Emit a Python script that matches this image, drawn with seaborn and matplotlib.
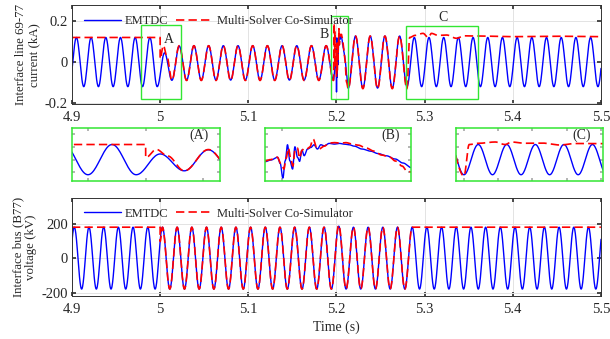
import numpy as np
import pandas as pd
import seaborn as sns
import matplotlib.pyplot as plt
from matplotlib.patches import Rectangle
from matplotlib.ticker import FuncFormatter, MultipleLocator

# 60 Hz signals: each list holds one extremum per half cycle
HALF = 1 / 120

# ---- interface line current (kA) ----
cur_first = 4.8967  # time of the first listed extremum (a trough)
cur_emtdc_pre = [-0.12, 0.12] * 6 + [-0.12, 0.045, -0.089, 0.078] + [-0.088, 0.08] * 10 + [-0.088]
cur_emtdc_post = [-0.128] + [0.127, -0.127] * 3 + [0.127] + [-0.12, 0.12] * 14

# zoom (B): samples
b_t_emtdc = [5.1985, 5.19905, 5.19964, 5.19987, 5.20011, 5.20032, 5.20052, 5.20073, 5.20097,
             5.20118, 5.20141, 5.20159, 5.2018, 5.2020, 5.2023, 5.2026, 5.20287, 5.20318,
             5.20348, 5.20378, 5.20422, 5.20466, 5.20511, 5.20555, 5.206, 5.20644, 5.20715,
             5.20786, 5.20857, 5.20928, 5.21008, 5.21078, 5.2115]
b_v_emtdc = [-0.017, -0.003, 0.018, -0.030, -0.146, -0.009, 0.118, -0.009, -0.075,
             0.102, 0.018, -0.014, 0.076, 0.031, 0.084, 0.097, 0.118, 0.084,
             0.118, 0.110, 0.129, 0.123, 0.129, 0.123, 0.118, 0.107, 0.084,
             0.068, 0.048, 0.031, 0.005, -0.027, -0.063]
b_t_cosim = [5.1985, 5.1990, 5.1996, 5.2000, 5.2002, 5.2004, 5.2006, 5.2008, 5.2010, 5.2012,
             5.2014, 5.2016, 5.2018, 5.2020, 5.2023, 5.2025, 5.2028, 5.2031, 5.2033, 5.2038,
             5.2042, 5.2047, 5.2052, 5.2057, 5.2063, 5.2068, 5.2075, 5.2082, 5.2089, 5.2096,
             5.2101, 5.2107, 5.2111, 5.2115]
b_v_cosim = [-0.011, 0.0, 0.02, -0.043, -0.075, 0.012, 0.092, 0.012, -0.051, 0.084,
             0.092, 0.012, 0.072, 0.092, 0.088, 0.1, 0.163, 0.1, 0.084, 0.107,
             0.131, 0.135, 0.131, 0.135, 0.123, 0.115, 0.092, 0.068, 0.036, 0.02,
             -0.011, -0.051, -0.088, -0.098]

# co-simulator current: phasor level, switch-over at 5.0 s, spike near 5.2 s, phasor again
cos_head_t = [4.9, 5.0, 5.0, 5.0037, 5.0075]
cos_head_v = [0.12, 0.12, 0.016, 0.081, 0.03]
cos_mid1 = [-0.089, 0.08] + [-0.09, 0.08] * 10 + [-0.09]
cos_spike_t = [5.1975, 5.1979, 5.1982]
cos_spike_v = [0.19, -0.02, 0.15]
cos_mid2 = [-0.13, 0.127] * 4 + [-0.13]
cos_tail_t = [5.2831, 5.2889, 5.2983, 5.304, 5.3078, 5.315, 5.325, 5.3362, 5.345, 5.3603, 5.4, 5.45, 5.5]
cos_tail_v = [0.12, 0.13, 0.14, 0.12, 0.14, 0.13, 0.132, 0.116, 0.128, 0.127, 0.124, 0.126, 0.124]

# ---- interface bus voltage (kV) ----
volt_first = 4.8943
volt_emtdc = [-180, 180] * 18 + [-180, 186] + [-180, 180] * 18
vcos_head_t = [4.9, 5.0, 5.0]
vcos_head_v = [180, 180, 97]
vcos_mid = [180, -180] * 12 + [192] + [-180, 180] * 5
vcos_tail_t = [5.5]
vcos_tail_v = [180]

x_ticks = [4.9, 5.0, 5.1, 5.2, 5.3, 5.4, 5.5]
boxes = {"A": (4.978, 5.0236, -0.182, 0.18, 5.0103, 0.11),
         "B": (5.1944, 5.2137, -0.18, 0.224, 5.1857, 0.135),
         "C": (5.2795, 5.3607, -0.18, 0.177, 5.321, 0.218)}
zooms = {"A": (4.9745, 5.0258), "B": (5.1985, 5.2115), "C": (5.2752, 5.361)}


def ext_times(idx0, n, first):
    return list(first + HALF * (idx0 + np.arange(n)))


def smooth(tk, vk, n=24):
    # half-cosine shaping between the read-off knots
    tk, vk = np.asarray(tk, float), np.asarray(vk, float)
    s = np.linspace(0, 1, n, endpoint=False)
    w = (1 - np.cos(np.pi * s)) / 2
    ts = [t0 + (t1 - t0) * s for t0, t1 in zip(tk[:-1], tk[1:])]
    vs = [v0 + (v1 - v0) * w for v0, v1 in zip(vk[:-1], vk[1:])]
    return pd.DataFrame({"t": np.r_[np.concatenate(ts), tk[-1]],
                         "v": np.r_[np.concatenate(vs), vk[-1]]})


cur_blue = smooth(ext_times(0, len(cur_emtdc_pre), cur_first) + b_t_emtdc
                  + ext_times(38, len(cur_emtdc_post), cur_first),
                  cur_emtdc_pre + b_v_emtdc + cur_emtdc_post)
cur_red = smooth(cos_head_t + ext_times(14, len(cos_mid1), cur_first) + cos_spike_t + b_t_cosim
                 + ext_times(38, len(cos_mid2), cur_first) + cos_tail_t,
                 cos_head_v + cos_mid1 + cos_spike_v + b_v_cosim + cos_mid2 + cos_tail_v)
volt_blue = smooth(ext_times(0, len(volt_emtdc), volt_first), volt_emtdc)
volt_red = smooth(vcos_head_t + ext_times(13, len(vcos_mid), volt_first) + vcos_tail_t,
                  vcos_head_v + vcos_mid + vcos_tail_v)

sns.set_theme(style="ticks")
plt.rcParams["font.family"] = ["Liberation Serif", "DejaVu Serif"]
plt.rcParams["axes.unicode_minus"] = False
plt.rcParams["font.size"] = 9.5

BLUE, RED, GREEN = "#0000ff", "#ff0000", "#33e633"
fig = plt.figure(figsize=(6.1, 3.39), dpi=100)
ax1 = fig.add_axes([0.118, 0.693, 0.867, 0.292])
ax2 = fig.add_axes([0.118, 0.127, 0.867, 0.289])


def draw(ax, blue, red, lw=1.0):
    sns.lineplot(data=blue, x="t", y="v", ax=ax, color=BLUE, lw=lw, sort=False,
                 estimator=None, label="EMTDC")
    sns.lineplot(data=red, x="t", y="v", ax=ax, color=RED, lw=lw + 0.2, sort=False,
                 estimator=None, dashes=(5, 2.5), label="Multi-Solver Co-Simulator")


for ax, blue, red, ylim, yt, ylab in [
        (ax1, cur_blue, cur_red, (-0.205, 0.278), [-0.2, 0, 0.2], "Interface line 69-77\ncurrent (kA)"),
        (ax2, volt_blue, volt_red, (-220, 350), [-200, 0, 200], "Interface bus (B77)\nvoltage (kV)")]:
    draw(ax, blue, red)
    ax.set_xlim(4.9, 5.5)
    ax.set_ylim(*ylim)
    ax.set_xticks(x_ticks)
    ax.set_yticks(yt)
    ax.xaxis.set_major_formatter(FuncFormatter(lambda x, p: f"{x:g}"))
    ax.yaxis.set_major_formatter(FuncFormatter(lambda x, p: f"{x:g}"))
    ax.grid(True, color="#e3e3e3", lw=0.7)
    ax.tick_params(direction="in", top=True, right=True, length=3, labelsize=10.5, pad=3,
                   color="#333333")
    ax.tick_params(axis="x", pad=5)
    for sp in ax.spines.values():
        sp.set_color("#333333")
        sp.set_linewidth(0.7)
    ax.set_ylabel(ylab, fontsize=9.3, labelpad=3, linespacing=1.15)
    ax.set_xlabel("")
    ax.legend(ncol=2, frameon=False, loc="center left", bbox_to_anchor=(0.022, 0.84),
              borderpad=0, borderaxespad=0, handlelength=3.0, handletextpad=0.3,
              columnspacing=0.6, fontsize=9)
ax2.set_xlabel("Time (s)", fontsize=10, labelpad=3)
fig.align_ylabels([ax1, ax2])

for name, (x0, x1, y0, y1, lx, ly) in boxes.items():
    ax1.add_patch(Rectangle((x0, y0), x1 - x0, y1 - y0, fill=False, ec=GREEN, lw=1.0, zorder=5))
    ax1.text(lx, ly, name, fontsize=10, ha="center", va="center")

inset_pos = {"A": [0.118, 0.466, 0.243, 0.156],
             "B": [0.434, 0.466, 0.240, 0.156],
             "C": [0.747, 0.466, 0.241, 0.156]}
for name, pos in inset_pos.items():
    ax = fig.add_axes(pos)
    draw(ax, cur_blue, cur_red, lw=1.0)
    ax.get_legend().remove()
    ax.set_xlim(*zooms[name])
    ax.set_ylim(-0.17, 0.25)
    ax.xaxis.set_major_locator(MultipleLocator(0.02))
    ax.yaxis.set_major_locator(MultipleLocator(0.1))
    ax.tick_params(direction="in", top=True, right=True, length=2, color="#aaaaaa",
                   labelbottom=False, labelleft=False)
    ax.set_xlabel("")
    ax.set_ylabel("")
    for sp in ax.spines.values():
        sp.set_color(GREEN)
        sp.set_linewidth(1.1)
    ax.text(0.86, 0.86, f"({name})", transform=ax.transAxes, fontsize=10,
            ha="center", va="center")

fig.savefig("out.png", dpi=100)
